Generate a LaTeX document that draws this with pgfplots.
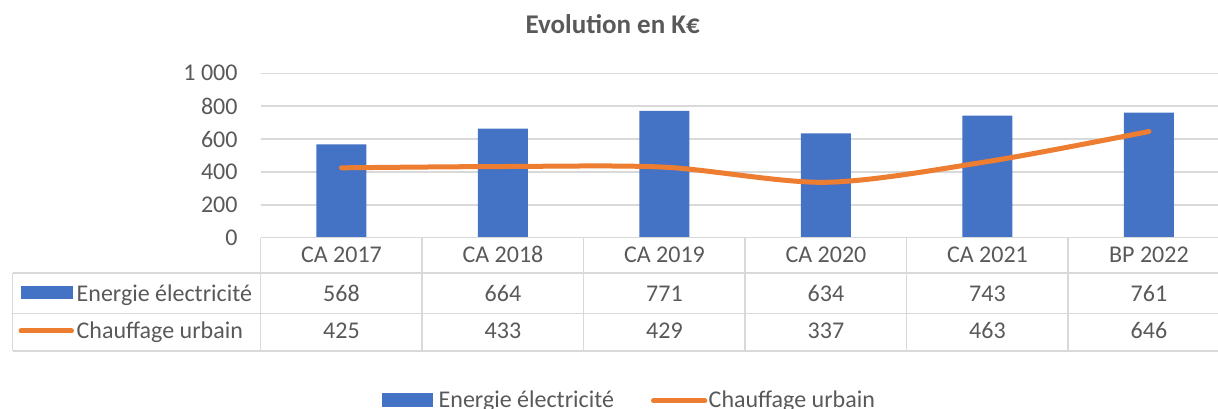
\documentclass[border=0pt]{standalone}
\usepackage{pgfplots}
\pgfplotsset{compat=1.18}
\usepackage{pgfplotstable}
\usepackage{fontspec}
\setmainfont{Carlito}
\definecolor{cblue}{HTML}{4472C4}
\definecolor{corange}{HTML}{ED7D31}
\definecolor{ctext}{HTML}{595959}
\definecolor{cgrid}{HTML}{D9D9D9}
\pgfplotstableread{
x elec chauf
0 568 425
1 664 433
2 771 429
3 634 337
4 743 463
5 761 646
}\data
\newcommand\lbl{\fontsize{24}{28}\selectfont}
\begin{document}
\begin{tikzpicture}[x=1pt,y=1pt]
\useasboundingbox (0,0) rectangle (1218,409);
\clip (0,0) rectangle (1218,409);
\begin{axis}[
  at={(260.7pt,171.3pt)}, anchor=south west,
  scale only axis, width=969pt, height=164.4pt,
  xmin=-0.5, xmax=5.5, ymin=0, ymax=1000,
  axis line style={draw=none},
  major tick length=0pt,
  xtick={0,...,5},
  xticklabels={CA 2017,CA 2018,CA 2019,CA 2020,CA 2021,BP 2022},
  ytick={0,200,...,1000},
  yticklabels={0,200,400,600,800,1 000},
  ymajorgrids, major grid style={cgrid, line width=1.5pt},
  tick label style={font=\lbl, text=ctext, inner sep=0pt},
  yticklabel style={anchor=east, xshift=-23pt},
  xticklabel style={anchor=base, yshift=-25.2pt},
  clip=false,
]
\addplot[ybar, bar width=50pt, fill=cblue, draw=none] table[x=x,y=elec]{\data};
\addplot[corange, line width=5pt, smooth, line cap=round, mark=none] table[x=x,y=chauf]{\data};
\end{axis}
\begin{scope}[cgrid, line width=1.5pt]
\draw (260.7,171.3) -- (1235,171.3);
\draw (12.5,136) -- (1235,136);
\draw (12.5,95.5) -- (1235,95.5);
\draw (12.5,58) -- (1235,58);
\draw (12.5,58) -- (12.5,136);
\foreach \k in {0,...,6} \draw ({260.7+161.5*\k},58) -- ({260.7+161.5*\k},171.3);
\end{scope}
\foreach \i in {0,...,5} {
  \pgfplotstablegetelem{\i}{elec}\of\data
  \node[anchor=base, font=\lbl, text=ctext, inner sep=0pt] at ({260.7+161.5*(\i+0.5)},107.7) {\pgfplotsretval};
  \pgfplotstablegetelem{\i}{chauf}\of\data
  \node[anchor=base, font=\lbl, text=ctext, inner sep=0pt] at ({260.7+161.5*(\i+0.5)},70.7) {\pgfplotsretval};
}
\fill[cblue] (20.7,109.7) rectangle (72.7,123);
\node[anchor=base west, font=\lbl, text=ctext, inner sep=0pt] at (76.5,107.7) {Energie électricité};
\draw[corange, line width=5pt, line cap=round] (21,78) -- (71.5,78);
\node[anchor=base west, font=\lbl, text=ctext, inner sep=0pt] at (76.5,70.7) {Chauffage urbain};
\fill[cblue] (382.3,2.3) rectangle (433.3,15.7);
\node[anchor=base west, font=\lbl, text=ctext, inner sep=0pt] at (438.5,1) {Energie électricité};
\draw[corange, line width=5pt, line cap=round] (653.5,8.3) -- (704.8,8.3);
\node[anchor=base west, font=\lbl, text=ctext, inner sep=0pt] at (708.5,1) {Chauffage urbain};
\node[anchor=base, font=\fontsize{27}{32}\selectfont\bfseries, text=ctext, inner sep=0pt] at (612.7,375.7) {Evolution en K€};
\end{tikzpicture}
\end{document}
